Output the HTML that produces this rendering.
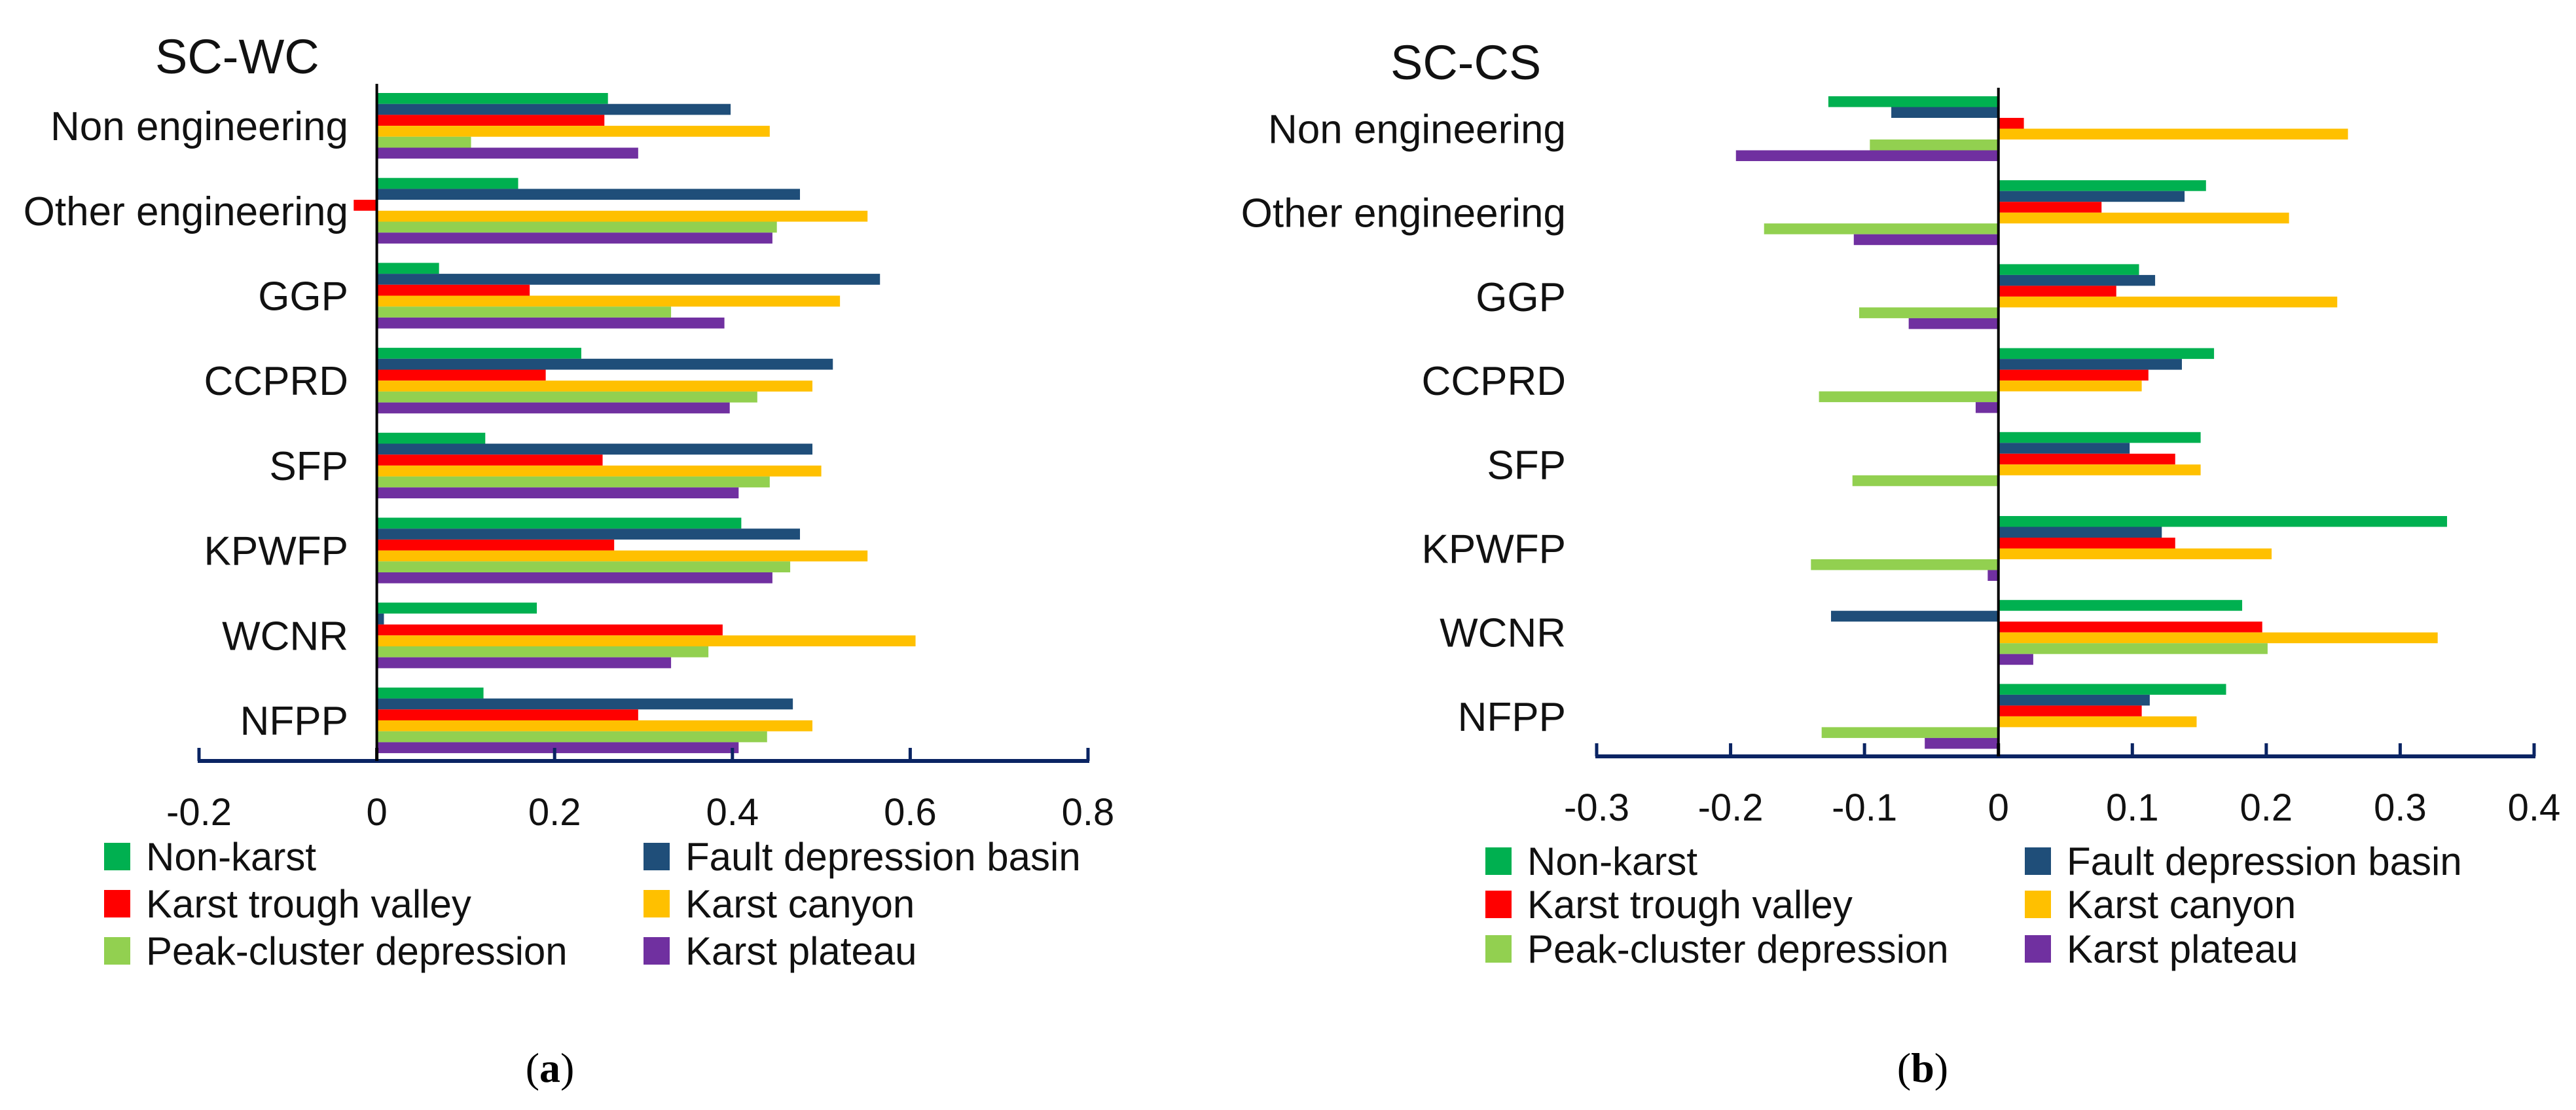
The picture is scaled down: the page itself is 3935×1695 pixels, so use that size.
<!DOCTYPE html>
<html><head><meta charset="utf-8"><style>
html,body{margin:0;padding:0;background:#fff;}
svg{display:block;}
text{font-family:"Liberation Sans",sans-serif;}
</style></head>
<body>
<svg id="fig" width="3935" height="1695" viewBox="0 0 3935 1695" xmlns="http://www.w3.org/2000/svg">
<g id="chartA"></g>
<g id="chartB"></g>
<text x="840" y="1652" text-anchor="middle" font-family="Liberation Serif" font-size="64" style="font-family:'Liberation Serif',serif">(<tspan font-weight="bold">a</tspan>)</text>
<text x="2937" y="1652" text-anchor="middle" font-family="Liberation Serif" font-size="64" style="font-family:'Liberation Serif',serif">(<tspan font-weight="bold">b</tspan>)</text>
</svg>
<script>
const categories = ["Non engineering","Other engineering","GGP","CCPRD","SFP","KPWFP","WCNR","NFPP"];
const seriesNames = ["Non-karst","Fault depression basin","Karst trough valley","Karst canyon","Peak-cluster depression","Karst plateau"];
const seriesColors = ["#00b050","#1f4e79","#ff0000","#ffc000","#92d050","#7030a0"];
// SC-WC values per series (rows follow categories)
const wcNonKarst   = [0.26,0.159,0.07,0.23,0.122,0.41,0.18,0.12];
const wcFault      = [0.398,0.476,0.566,0.513,0.49,0.476,0.008,0.468];
const wcTrough     = [0.256,-0.026,0.172,0.19,0.254,0.267,0.389,0.294];
const wcCanyon     = [0.442,0.552,0.521,0.49,0.5,0.552,0.606,0.49];
const wcPeak       = [0.106,0.45,0.331,0.428,0.442,0.465,0.373,0.439];
const wcPlateau    = [0.294,0.445,0.391,0.397,0.407,0.445,0.331,0.407];
const wcTicks = [-0.2,0,0.2,0.4,0.6,0.8];
const wcTickLabels = ["-0.2","0","0.2","0.4","0.6","0.8"];
// SC-CS values
const csNonKarst   = [-0.127,0.155,0.105,0.161,0.151,0.335,0.182,0.17];
const csFault      = [-0.08,0.139,0.117,0.137,0.098,0.122,-0.125,0.113];
const csTrough     = [0.019,0.077,0.088,0.112,0.132,0.132,0.197,0.107];
const csCanyon     = [0.261,0.217,0.253,0.107,0.151,0.204,0.328,0.148];
const csPeak       = [-0.096,-0.175,-0.104,-0.134,-0.109,-0.14,0.201,-0.132];
const csPlateau    = [-0.196,-0.108,-0.067,-0.017,0,-0.008,0.026,-0.055];
const csTicks = [-0.3,-0.2,-0.1,0,0.1,0.2,0.3,0.4];
const csTickLabels = ["-0.3","-0.2","-0.1","0","0.1","0.2","0.3","0.4"];

const NS="http://www.w3.org/2000/svg";
function mk(tag, attrs, parent){const e=document.createElementNS(NS,tag);for(const k in attrs)e.setAttribute(k,attrs[k]);parent.appendChild(e);return e;}

function draw(g, cfg){
  const xs = v => cfg.x0 + (v - cfg.dmin)/(cfg.dmax-cfg.dmin)*(cfg.x1-cfg.x0);
  const ys = (ci,si) => cfg.top + ci*cfg.pitch + si*cfg.barH;
  const t = mk('text',{x:cfg.titleX,y:cfg.titleY,'font-size':74,fill:'#111'},g);
  t.textContent = cfg.title;
  
  
  cfg.series.forEach((arr,si)=>{
    arr.forEach((v,ci)=>{
      const a=xs(0), b=xs(v);
      const r=mk('rect',{x:Math.min(a,b),y:ys(ci,si),width:Math.max(Math.abs(b-a),0.5),height:cfg.barH,fill:seriesColors[si]},g);
      
      
    });
  });
  categories.forEach((c,ci)=>{
    const cy = cfg.top + ci*cfg.pitch + 3*cfg.barH;
    const tx = mk('text',{x:cfg.labelX,y:cy+22,'font-size':62,'text-anchor':'end',fill:'#111'},g);
    tx.textContent=c;
    
    
  });
  const z=mk('line',{x1:xs(0),x2:xs(0),y1:cfg.axisTop,y2:cfg.axisY,stroke:'#000','stroke-width':4},g);
  
  
  const ax=mk('line',{x1:xs(cfg.dmin)-2,x2:xs(cfg.dmax)+2,y1:cfg.axisY,y2:cfg.axisY,stroke:'#0a2463','stroke-width':6},g);
  
  
  cfg.ticks.forEach((tv,i)=>{
    const tk=mk('line',{x1:xs(tv),x2:xs(tv),y1:cfg.axisY-20,y2:cfg.axisY,stroke:tv===0?'#000':'#0a2463','stroke-width':5},g);
    
    
    const tl=mk('text',{x:xs(tv),y:cfg.axisY+98,'font-size':58,'text-anchor':'middle',fill:'#111'},g);
    tl.textContent=cfg.tickLabels[i];
    
    
  });
  seriesNames.forEach((n,si)=>{
    const col=si%2,row=Math.floor(si/2);
    const sx=cfg.legX[col], cy=cfg.legY[row];
    const sw=mk('rect',{x:sx,y:cy-21,width:40,height:42,fill:seriesColors[si]},g);
    
    
    const lt=mk('text',{x:sx+64,y:cy+21,'font-size':60,fill:'#111'},g);
    lt.textContent=n;
    
    
  });
}

draw(document.getElementById('chartA'),{
  title:'SC-WC',titleX:237,titleY:112,
  x0:304,x1:1662,dmin:-0.2,dmax:0.8,
  top:142,pitch:129.7,barH:16.7,labelX:532,
  axisTop:128,axisY:1162,
  ticks:wcTicks,tickLabels:wcTickLabels,
  series:[wcNonKarst,wcFault,wcTrough,wcCanyon,wcPeak,wcPlateau],
  legX:[159,983],legY:[1308,1380,1452]
});
draw(document.getElementById('chartB'),{
  title:'SC-CS',titleX:2124,titleY:121,
  x0:2439,x1:3871,dmin:-0.3,dmax:0.4,
  top:147,pitch:128.2,barH:16.5,labelX:2392,
  axisTop:134,axisY:1155,
  ticks:csTicks,tickLabels:csTickLabels,
  series:[csNonKarst,csFault,csTrough,csCanyon,csPeak,csPlateau],
  legX:[2269,3093],legY:[1315,1381,1449]
});
</script>
</body></html>
